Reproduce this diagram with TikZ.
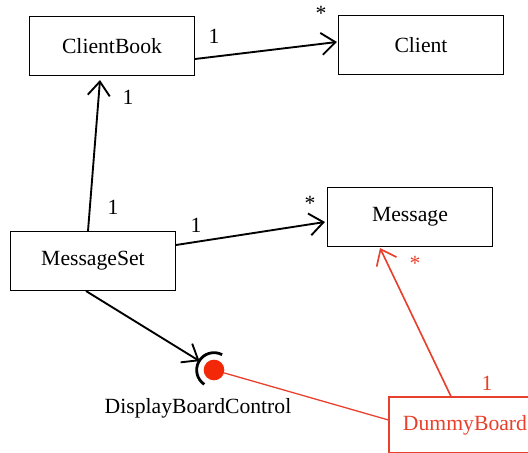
\documentclass[tikz,border=0pt]{standalone}
\usepackage{fontspec}
\setmainfont{Liberation Serif}
\usetikzlibrary{arrows.meta,positioning,calc}
\definecolor{umlred}{RGB}{232,64,44}
\definecolor{ballred}{RGB}{242,40,8}

\begin{document}
\begin{tikzpicture}[x=0.03cm,y=-0.03cm,
  every node/.style={font=\rmfamily\fontsize{18.5}{20}\selectfont},
  cls/.style={draw,line width=0.9pt,minimum width=4.95cm,minimum height=1.77cm,inner sep=0pt},
  assoc/.style={line width=1.6pt,-{Straight Barb[length=0.42cm,width=0.66cm,line width=1.6pt]}},
  mult/.style={inner sep=0pt}]
  \useasboundingbox (0,0) rectangle (528,453); % 画像の大きさに合わせた枠
  \clip (0,0) rectangle (528,453); % 右下の箱ははみ出すので切り取る
  \node[cls] (clientbook) at (112,46) {ClientBook}; % クラス ClientBook
  \node[cls] (client) at (421,45) {Client}; % クラス Client
  \node[cls] (message) at (410,217) {Message}; % クラス Message
  \node[cls] (messageset) at (93,261) {MessageSet}; % クラス MessageSet
  \node[cls,draw=umlred,text=umlred,minimum width=4.56cm,minimum height=1.68cm] (dummyboard) at (465,425) {DummyBoard}; % 赤いダミークラス
  \node[circle,fill=ballred,minimum size=0.62cm,inner sep=0pt] (ball) at (214,370) {}; % 提供インタフェース（ボール）
  \draw[line width=2.4pt] ([shift={(62:0.52cm)}]ball.center) arc[start angle=62,end angle=236,radius=0.52cm]; % 要求インタフェース（ソケット）
  \node (dbc) at (198,408) {DisplayBoardControl}; % インタフェース名
  \draw[assoc] ([yshift=-0.39cm]clientbook.east) -- ([yshift=0.09cm,xshift=-0.03cm]client.west); % ClientBook から Client へ
  \draw[assoc] ([xshift=-0.15cm]messageset.north) -- ([xshift=-0.36cm,yshift=-0.12cm]clientbook.south); % MessageSet から ClientBook へ
  \draw[assoc] ([yshift=0.48cm]messageset.east) -- ([yshift=-0.15cm,xshift=-0.06cm]message.west); % MessageSet から Message へ
  \draw[assoc,shorten >=0.19cm] ([xshift=-0.21cm]messageset.south) -- (ball); % MessageSet からソケットへ
  \draw[umlred,line width=1.1pt] (ball) -- ([yshift=0.15cm]dummyboard.west); % ボールと DummyBoard をつなぐ
  \draw[umlred,line width=1.4pt,-{Straight Barb[length=0.42cm,width=0.66cm,line width=1.4pt]}]
    ([xshift=-0.42cm]dummyboard.north) -- ([xshift=-0.9cm,yshift=-0.03cm]message.south); % DummyBoard から Message へ
  \node[mult] (m1) at (214,36) {1}; % 多重度
  \node[mult] (m2) at (321,13) {*};
  \node[mult] (m3) at (128,97) {1};
  \node[mult] (m4) at (113,207) {1};
  \node[mult] (m5) at (196,225) {1};
  \node[mult] (m6) at (310,203) {*};
  \node[mult,text=umlred] (m7) at (415,263) {*}; % 赤い多重度
  \node[mult,text=umlred] (m8) at (487,383) {1};
\end{tikzpicture}
\end{document}
